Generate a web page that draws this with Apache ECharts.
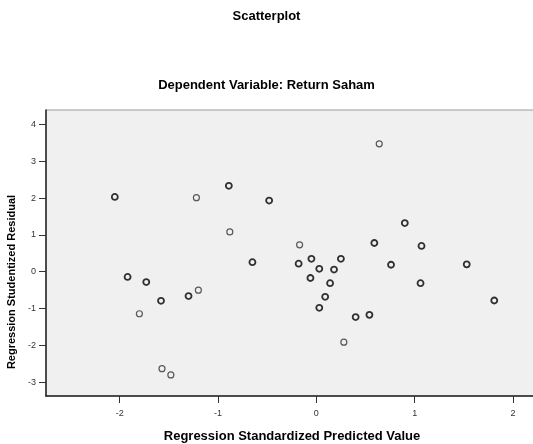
<!DOCTYPE html>
<html>
<head>
<meta charset="utf-8">
<script src="https://cdn.jsdelivr.net/npm/echarts@6/dist/echarts.min.js"></script>
<style>
html,body{margin:0;padding:0;background:#fff;overflow:hidden;}
#chart{width:533px;height:444px;}
</style>
</head>
<body>
<div id="chart"></div>
<script>
var mainTitle = 'Scatterplot';
var subTitle = 'Dependent Variable: Return Saham';
var xName = 'Regression Standardized Predicted Value';
var yName = 'Regression Studentized Residual';

var xTicks = [-2, -1, 0, 1, 2];
var yTicks = [-3, -2, -1, 0, 1, 2, 3, 4];

// darker (overlapping) markers
var boldPredicted = [-2.05, -0.89, -0.48, -0.65, -0.18, 0.90, 0.59, 1.07, -0.05, 0.25, 0.76, 1.53, 0.03, 0.18, -0.06, 0.14, 1.06, 0.09, 0.03, 0.40, 0.54, 1.81, -1.92, -1.73, -1.58, -1.30];
var boldResidual  = [ 2.03,  2.33,  1.93,  0.26,  0.22, 1.32, 0.78, 0.70,  0.35, 0.35, 0.19, 0.20, 0.08, 0.06, -0.17, -0.31, -0.31, -0.68, -0.98, -1.23, -1.17, -0.78, -0.14, -0.28, -0.79, -0.66];

// lighter markers
var lightPredicted = [-1.22, -0.88, -0.17, 0.64, 0.28, -1.20, -1.80, -1.57, -1.48];
var lightResidual  = [ 2.01,  1.08,  0.73, 3.47, -1.91, -0.50, -1.14, -2.63, -2.80];

function zip(a, b) { return a.map(function (v, i) { return [v, b[i]]; }); }

var FONT = "'Liberation Sans', Arial, sans-serif";

var chart = echarts.init(document.getElementById('chart'), null, {renderer: 'canvas'});
chart.setOption({
  backgroundColor: '#ffffff',
  animation: false,
  title: [
    {text: mainTitle, left: 'center', top: 5,
     textStyle: {fontFamily: FONT, fontSize: 13, fontWeight: 'bold', color: '#000'}},
    {text: subTitle, left: 'center', top: 74,
     textStyle: {fontFamily: FONT, fontSize: 13, fontWeight: 'bold', color: '#000'}}
  ],
  grid: {
    left: 46, top: 110, width: 492, height: 286,
    outerBoundsMode: 'none', containLabel: false,
    show: true, backgroundColor: '#f0f0f0', borderColor: '#9a9a9a', borderWidth: 1
  },
  xAxis: {
    type: 'value',
    min: -2.75, max: 2.255,
    name: xName, nameLocation: 'middle', nameGap: 34,
    nameTextStyle: {fontFamily: FONT, fontSize: 13, fontWeight: 'bold', color: '#000'},
    axisLine: {show: true, onZero: false, lineStyle: {color: '#222', width: 1.5}},
    axisTick: {show: true, length: 7, customValues: xTicks, lineStyle: {color: '#333', width: 1}},
    axisLabel: {customValues: xTicks, margin: 13, fontFamily: FONT, fontSize: 9, color: '#333',
                formatter: function (v) { return String(v); }},
    splitLine: {show: false}
  },
  yAxis: {
    type: 'value',
    min: -3.371, max: 4.388,
    name: yName, nameLocation: 'middle', nameGap: 23,
    nameTextStyle: {fontFamily: FONT, fontSize: 11, fontWeight: 'bold', color: '#000', padding: [0, 58, 0, 0]},
    axisLine: {show: true, onZero: false, lineStyle: {color: '#222', width: 1.5}},
    axisTick: {show: true, length: 7, customValues: yTicks, lineStyle: {color: '#333', width: 1}},
    axisLabel: {customValues: yTicks, margin: 10, fontFamily: FONT, fontSize: 9, color: '#333',
                formatter: function (v) { return String(v); }},
    splitLine: {show: false}
  },
  series: [
    {type: 'scatter', data: zip(lightPredicted, lightResidual), symbol: 'circle', symbolSize: 6,
     itemStyle: {color: 'rgba(0,0,0,0)', borderColor: '#333', borderWidth: 1.2}},
    {type: 'scatter', data: zip(boldPredicted, boldResidual), symbol: 'circle', symbolSize: 6,
     itemStyle: {color: 'rgba(0,0,0,0)', borderColor: '#000', borderWidth: 1.8}}
  ]
});
</script>
</body>
</html>
